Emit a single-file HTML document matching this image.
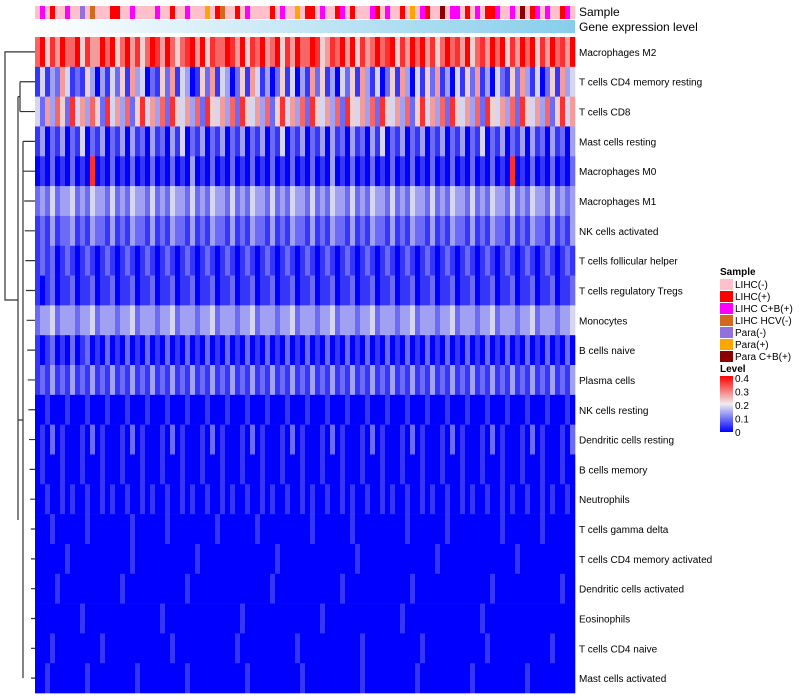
<!DOCTYPE html>
<html><head><meta charset="utf-8"><style>
body{margin:0;background:#fff;width:800px;height:700px;overflow:hidden;font-family:"Liberation Sans",sans-serif}
svg{position:absolute;left:0;top:0}
text{font-family:"Liberation Sans",sans-serif;fill:#000}
</style></head><body>
<svg id="c" width="800" height="700"></svg>
<script>
const rowLabels=["Macrophages M2","T cells CD4 memory resting","T cells CD8","Mast cells resting","Macrophages M0","Macrophages M1","NK cells activated","T cells follicular helper","T cells regulatory  Tregs","Monocytes","B cells naive","Plasma cells","NK cells resting","Dendritic cells resting","B cells memory","Neutrophils","T cells gamma delta","T cells CD4 memory activated","Dendritic cells activated","Eosinophils","T cells CD4 naive","Mast cells activated"];
// level codes 0..9 per column (value = code*0.045)
const rowValues=[
"795869779586697957968579869757896958779869587967958697798568796958679789586979685797869578697958697958697869",
"141326412153031425163402152614301526143025164130251403162513042516314025163041526130415261304215263140251634",
"426375284637528463725846372854637285463728546372584637285463728546372854637258463728546372854637285463725846",
"130213021402130213031203120314021302130213021302140213021303120312031402130213021302130214021302130312031203",
"010201020108010201020102010201030102010201020102010201020103010201020102010201020102010201020108010201020102",
"232423342324332423243324232433242324332423243324232433242324332423243324232433242324332423243324232433242323",
"121312231213221312132213121322131213221312132213121322131213221312132213121322131213221312132213121322131213",
"121201210121012101210121012101210121012101210121012101210121012101210121012101210121012101210121012101210121",
"101201120112011201120112011201120112011201120112011201120112011201120112011201120112011201120112011201120112",
"233423332334233323342333233423332334233323342333233423332334233323342333233423332334233323342333233423332334",
"101201020120102010201020102010201020102010201020102010201020102010201020102010201020102010201020102010201020",
"121312131213121312131213121312131213121312131213121312131213121312131213121312131213121312131213121312131213",
"001000100010001000100010001000100010001000100010001000100010001000100010001000100010001000100010001000100010",
"010201000102010001020100010201000102010001020100010201000102010001020100010201000102010001020100010201000102",
"010001000100010001000100010001000100010001000100010001000100010001000100010001000100010001000100010001000100",
"001001010010010100100101001001010010010100100101001001010010010100100101001001010010010100100101001001010010",
"000100000010000000010000001000000000100000001000000000010000000100000000001000000010000000000100000001000000",
"000000100000000000010000000000001000000000000000100000000000000010000000000000001000000000000000100000000000",
"000010000000000001000000000000100000000000000001000000000000010000000000000100000000000000010000000000000100",
"000000000100000000000000010000000000000001000000000000000100000000000000010000000000000001000000000000000000",
"000100000000010000000000000100000000000010000000000010000000000001000000000001000000000000100000000000010000",
"001000000010000000001000000000100000000000100000000001000000000001000000000010000000000100000000001000000000"];
const sampleCodes="pmprppmppvpcppprrppmppppmpprppmpppoprcpprpmpppprpmppoprrpmpprmprpppmrpmpprpopmrppbpmmprpmprrmppmpbprmpmpprmp";
const sampleColors={p:"#ffc0cb",r:"#ff0000",m:"#ff00ff",c:"#d2691e",v:"#9370db",o:"#ffa500",b:"#8b0000"};
const levelTicks=["0.4","0.3","0.2","0.1","0"];
const sampleLegend=[["LIHC(-)","#ffc0cb"],["LIHC(+)","#ff0000"],["LIHC C+B(+)","#ff00ff"],["LIHC HCV(-)","#d2691e"],["Para(-)","#9370db"],["Para(+)","#ffa500"],["Para C+B(+)","#8b0000"]];

const svg=document.getElementById('c');const NS="http://www.w3.org/2000/svg";
function el(t,a,p){const e=document.createElementNS(NS,t);for(const k in a)e.setAttribute(k,a[k]);(p||svg).appendChild(e);return e;}
const X0=35,X1=575,Y0=37,RH=29.82;
function col(v){v=Math.max(0,Math.min(0.4,v));let r,g,b;
 if(v<=0.2){const t=v/0.2;r=Math.round(238*t);g=Math.round(238*t);b=Math.round(255-17*t);}
 else{const t=(v-0.2)/0.2;r=Math.round(238+17*t);g=Math.round(238*(1-t));b=Math.round(238*(1-t));}
 return `rgb(${r},${g},${b})`;}
const yScale=i=>Y0+i*RH;
const xScale=(j,n)=>X0+j*(X1-X0)/n;
// sample bar
const sg=el('g',{});

for(let j=0;j<sampleCodes.length;j++){const n=sampleCodes.length;
 el('rect',{x:xScale(j,n),y:6,width:(X1-X0)/n+0.3,height:13,fill:sampleColors[sampleCodes[j]]},sg);}
const defs=el('defs',{});
const lg=el('linearGradient',{id:'ge',x1:0,x2:1,y1:0,y2:0},defs);
el('stop',{offset:0,'stop-color':'#ffffff'},lg);el('stop',{offset:1,'stop-color':'#87ceeb'},lg);
const lv=el('linearGradient',{id:'lv',x1:0,x2:0,y1:0,y2:1},defs);
el('stop',{offset:0,'stop-color':'#ff0000'},lv);el('stop',{offset:0.5,'stop-color':'#eeeeee'},lv);el('stop',{offset:1,'stop-color':'#0000ff'},lv);
const ge=el('rect',{x:X0,y:20,width:X1-X0,height:13,fill:'url(#ge)'});

let t=el('text',{x:579,y:16,'font-size':12});t.textContent="Sample";

t=el('text',{x:579,y:31,'font-size':12});t.textContent="Gene expression level";

// cells
rowLabels.forEach((lab,i)=>{const g=el('g',{});
 
 const s=rowValues[i],n=s.length;
 for(let j=0;j<n;j++){el('rect',{x:xScale(j,n),y:yScale(i),width:(X1-X0)/n+0.3,height:RH+0.3,fill:col(+s[j]*0.045)},g);}
 const tx=el('text',{x:579,y:yScale(i)+RH/2+4,'font-size':10});tx.textContent=lab;
 });
// dendrogram
const dg=el('g',{stroke:'#333','stroke-width':1.2,fill:'none'});

const cy=i=>yScale(i)+RH/2;
let d=`M35 ${cy(0)}H5V300H18 M18 ${(cy(1)+cy(2))/2}V520 M18 ${(cy(1)+cy(2))/2}H20 M20 ${cy(1)}V${cy(2)} M20 ${cy(1)}H35 M20 ${cy(2)}H35 M18 420H23 M23 ${cy(3)}V${cy(21)}`;
for(let i=3;i<22;i++){const xs=23+Math.min(8,(i-3)*0.6);d+=` M${xs} ${cy(i)}H35`;}
el('path',{d},dg);
// legend
t=el('text',{x:720,y:275,'font-size':10,'font-weight':'bold'});t.textContent="Sample";

sampleLegend.forEach((e,k)=>{const g=el('g',{});
 
 el('rect',{x:720,y:279+k*12,width:13,height:11,fill:e[1]},g);
 const tt=el('text',{x:735,y:288+k*12,'font-size':10},g);tt.textContent=e[0];});
t=el('text',{x:720,y:372,'font-size':10,'font-weight':'bold'});t.textContent="Level";

const cb=el('rect',{x:720,y:376,width:13,height:56,fill:'url(#lv)'});

levelTicks.forEach((l,k)=>{const yy=378+k*13.5;
 const tt=el('text',{x:735,y:yy+4,'font-size':10});tt.textContent=l;
 });
</script>
</body></html>
